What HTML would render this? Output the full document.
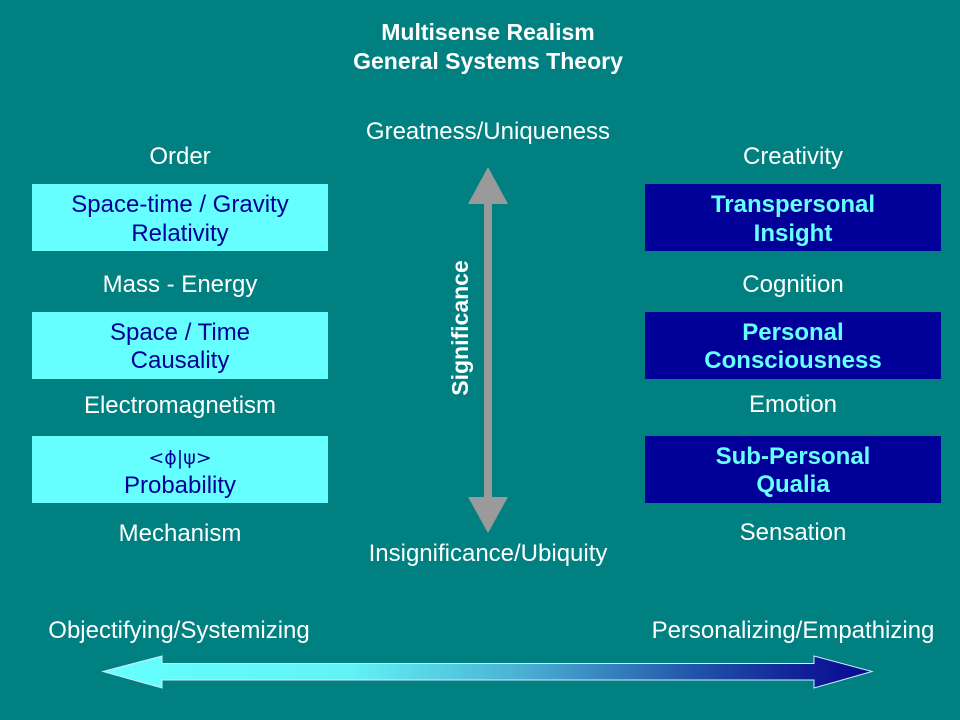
<!DOCTYPE html>
<html>
<head>
<meta charset="utf-8">
<style>
  html, body { margin: 0; padding: 0; background: #008080; }
  svg { display: block; }
  text { font-family: "Liberation Sans", Arial, sans-serif; font-size: 24px; }
</style>
</head>
<body>
<svg width="960" height="720" viewBox="0 0 960 720" xmlns="http://www.w3.org/2000/svg">
  <defs>
    <linearGradient id="hg" x1="103" y1="0" x2="872" y2="0" gradientUnits="userSpaceOnUse">
      <stop offset="0" stop-color="#66ffff"/>
      <stop offset="0.32" stop-color="#62f2f5"/>
      <stop offset="0.55" stop-color="#4aaed2"/>
      <stop offset="0.78" stop-color="#2050a8"/>
      <stop offset="0.92" stop-color="#101c96"/>
      <stop offset="1" stop-color="#0a0a90"/>
    </linearGradient>
  </defs>
  <rect x="0" y="0" width="960" height="720" fill="#008080"/>

  <!-- Title -->
  <text x="488" y="40" text-anchor="middle" fill="#ffffff" font-weight="bold" style="font-size:23px">Multisense Realism</text>
  <text x="488" y="69" text-anchor="middle" fill="#ffffff" font-weight="bold" style="font-size:23px">General Systems Theory</text>

  <!-- Center labels -->
  <text x="488" y="139" text-anchor="middle" fill="#ffffff">Greatness/Uniqueness</text>
  <text x="488" y="561" text-anchor="middle" fill="#ffffff">Insignificance/Ubiquity</text>

  <!-- Vertical arrow -->
  <rect x="484" y="202" width="8" height="297" fill="#9a9a9a"/>
  <polygon points="488,167 508,204 468,204" fill="#9a9a9a"/>
  <polygon points="468,497 508,497 488,533" fill="#9a9a9a"/>
  <text transform="translate(468,328) rotate(-90)" text-anchor="middle" fill="#ffffff" font-weight="bold" style="font-size:23px">Significance</text>

  <!-- Left column -->
  <text x="180" y="164" text-anchor="middle" fill="#ffffff">Order</text>
  <rect x="32" y="184" width="296" height="67" fill="#66ffff"/>
  <text x="180" y="212" text-anchor="middle" fill="#000099">Space-time / Gravity</text>
  <text x="180" y="241" text-anchor="middle" fill="#000099">Relativity</text>

  <text x="180" y="292" text-anchor="middle" fill="#ffffff">Mass - Energy</text>
  <rect x="32" y="312" width="296" height="67" fill="#66ffff"/>
  <text x="180" y="340" text-anchor="middle" fill="#000099">Space / Time</text>
  <text x="180" y="368" text-anchor="middle" fill="#000099">Causality</text>

  <text x="180" y="413" text-anchor="middle" fill="#ffffff">Electromagnetism</text>
  <rect x="32" y="436" width="296" height="67" fill="#66ffff"/>
  <text x="180" y="464" text-anchor="middle" fill="#000099" style="font-family:'DejaVu Sans','Liberation Sans',sans-serif;font-size:19px">&lt;ϕ|ψ&gt;</text>
  <text x="180" y="493" text-anchor="middle" fill="#000099">Probability</text>

  <text x="180" y="541" text-anchor="middle" fill="#ffffff">Mechanism</text>

  <!-- Right column -->
  <text x="793" y="164" text-anchor="middle" fill="#ffffff">Creativity</text>
  <rect x="645" y="184" width="296" height="67" fill="#000099"/>
  <text x="793" y="212" text-anchor="middle" fill="#66ffff" font-weight="bold">Transpersonal</text>
  <text x="793" y="241" text-anchor="middle" fill="#66ffff" font-weight="bold">Insight</text>

  <text x="793" y="292" text-anchor="middle" fill="#ffffff">Cognition</text>
  <rect x="645" y="312" width="296" height="67" fill="#000099"/>
  <text x="793" y="340" text-anchor="middle" fill="#66ffff" font-weight="bold">Personal</text>
  <text x="793" y="368" text-anchor="middle" fill="#66ffff" font-weight="bold">Consciousness</text>

  <text x="793" y="412" text-anchor="middle" fill="#ffffff">Emotion</text>
  <rect x="645" y="436" width="296" height="67" fill="#000099"/>
  <text x="793" y="464" text-anchor="middle" fill="#66ffff" font-weight="bold">Sub-Personal</text>
  <text x="793" y="492" text-anchor="middle" fill="#66ffff" font-weight="bold">Qualia</text>

  <text x="793" y="540" text-anchor="middle" fill="#ffffff">Sensation</text>

  <!-- Bottom labels -->
  <text x="179" y="638" text-anchor="middle" fill="#ffffff">Objectifying/Systemizing</text>
  <text x="793" y="638" text-anchor="middle" fill="#ffffff">Personalizing/Empathizing</text>

  <!-- Horizontal gradient arrow -->
  <polygon points="103,671.5 162,656 162,663.5 814,663.5 814,656 872,671.5 814,688 814,680 162,680 162,688"
           fill="url(#hg)" stroke="#cfeeff" stroke-width="1"/>
</svg>
</body>
</html>
